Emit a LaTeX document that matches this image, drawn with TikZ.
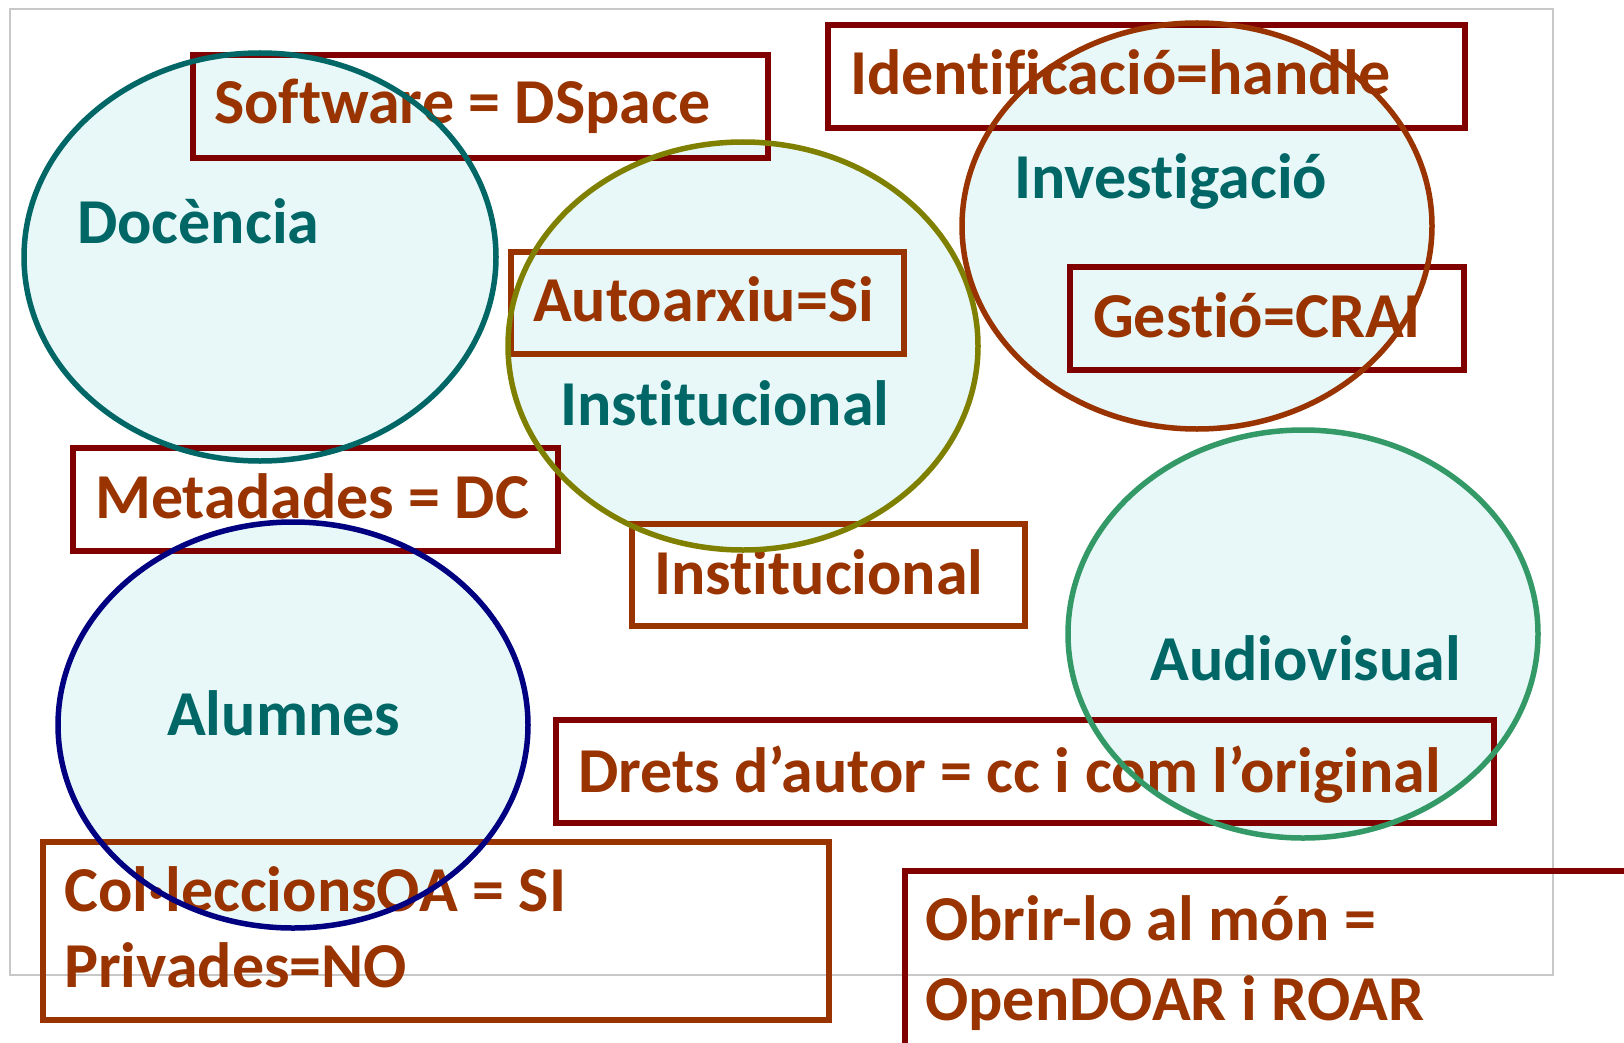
\documentclass[tikz,border=0pt]{standalone}
\usepackage{fontspec}
\setmainfont{Carlito}[Ligatures={NoCommon,NoDiscretionary,NoContextual},Contextuals={NoAlternate}]
\usetikzlibrary{shapes.geometric}
\definecolor{tealtxt}{HTML}{006666}
\definecolor{browntxt}{HTML}{993300}
\definecolor{darkredbox}{HTML}{800000}
\definecolor{ellfill}{HTML}{E8F8F8}
\definecolor{cteal}{HTML}{006666}
\definecolor{colive}{HTML}{808000}
\definecolor{cbrown}{HTML}{993300}
\definecolor{cgreen}{HTML}{339966}
\definecolor{cnavy}{HTML}{000080}
\definecolor{framegray}{HTML}{C8C8C8}
\begin{document}
\begin{tikzpicture}[x=1pt,y=-1pt,
  ell/.style={ellipse, inner sep=0pt, fill=ellfill, draw=none},
  eline/.style={line width=5.5pt},
  box/.style={rectangle, inner sep=0pt, line width=6pt, anchor=north west},
  rbox/.style={box, draw=darkredbox},
  bbox/.style={box, draw=browntxt},
  lbl/.style={anchor=base west, inner sep=0pt, font=\fontsize{64}{76}\selectfont\bfseries},
  blbl/.style={lbl, text=browntxt},
  tlbl/.style={lbl, text=tealtxt}]
\useasboundingbox (0,0) rectangle (1624,1043);
\clip (0,0) rectangle (1624,1043);
\fill[white] (0,0) rectangle (1624,1043);
\draw[framegray, line width=2pt] (10,9) rectangle (1553,975);
% ellipse fills
\node[ell, minimum width=472pt, minimum height=408pt] (doc) at (260,257) {};
\node[ell, minimum width=470pt, minimum height=408pt] (inst) at (743,346) {};
\node[ell, minimum width=470pt, minimum height=406pt] (inv) at (1197,226) {};
\node[ell, minimum width=470pt, minimum height=408pt] (aud) at (1303,634) {};
\node[ell, minimum width=470pt, minimum height=406pt] (alu) at (293,725) {};
% ellipse labels
\node[tlbl] (tdoc) at (77,243) {Docència};
\node[tlbl] (tinst) at (560,425) {Institucional};
\node[tlbl] (tinv) at (1014,199) {Investigació};
\node[tlbl] (taud) at (1150,680) {Audiovisual};
\node[tlbl] (talu) at (167,735) {Alumnes};
% boxes
\node[rbox, minimum width=575pt, minimum height=103pt] (bsoft) at (190,52) {};
\node[rbox, minimum width=637pt, minimum height=103pt] (bident) at (825,22) {};
\node[bbox, minimum width=393pt, minimum height=102pt] (bauto) at (508,249) {};
\node[rbox, minimum width=394pt, minimum height=103pt] (bgest) at (1067,264) {};
\node[rbox, minimum width=485pt, minimum height=103pt] (bmeta) at (70,445) {};
\node[bbox, minimum width=393pt, minimum height=102pt] (binst) at (629,521) {};
\node[rbox, minimum width=938pt, minimum height=103pt] (bdrets) at (553,717) {};
\node[bbox, minimum width=786pt, minimum height=178pt] (bcol) at (40,839) {};
\node[rbox, minimum width=800pt, minimum height=250pt] (bobrir) at (902,868) {};
% box texts
\node[blbl] (tsoft) at (214,124) {Software = DSpace};
\node[blbl] (tident) at (850,95) {Identificació=handle};
\node[blbl] (tauto) at (533,321) {Autoarxiu=Si};
\node[blbl] (tgest) at (1093,337) {Gestió=CRAI};
\node[blbl] (tmeta) at (95,518) {Metadades = DC};
\node[blbl] (tinstb) at (654,594) {Institucional};
\node[blbl] (tdrets) at (578,792) {Drets d’autor = cc i com l’original};
\node[blbl] (tcol1) at (64,911) {Col·leccionsOA = SI};
\node[blbl] (tcol2) at (64,987) {Privades=NO};
\node[blbl] (tobr1) at (925,940) {Obrir-lo al món =};
\node[blbl] (tobr2) at (925,1020) {OpenDOAR i ROAR};
% ellipse outlines on top
\draw[eline, cteal] (doc.center) ellipse [x radius=236pt, y radius=204pt];
\draw[eline, colive] (inst.center) ellipse [x radius=235pt, y radius=204pt];
\draw[eline, cbrown] (inv.center) ellipse [x radius=235pt, y radius=203pt];
\draw[eline, cgreen] (aud.center) ellipse [x radius=235pt, y radius=204pt];
\draw[eline, cnavy] (alu.center) ellipse [x radius=235pt, y radius=203pt];
\end{tikzpicture}
\end{document}
